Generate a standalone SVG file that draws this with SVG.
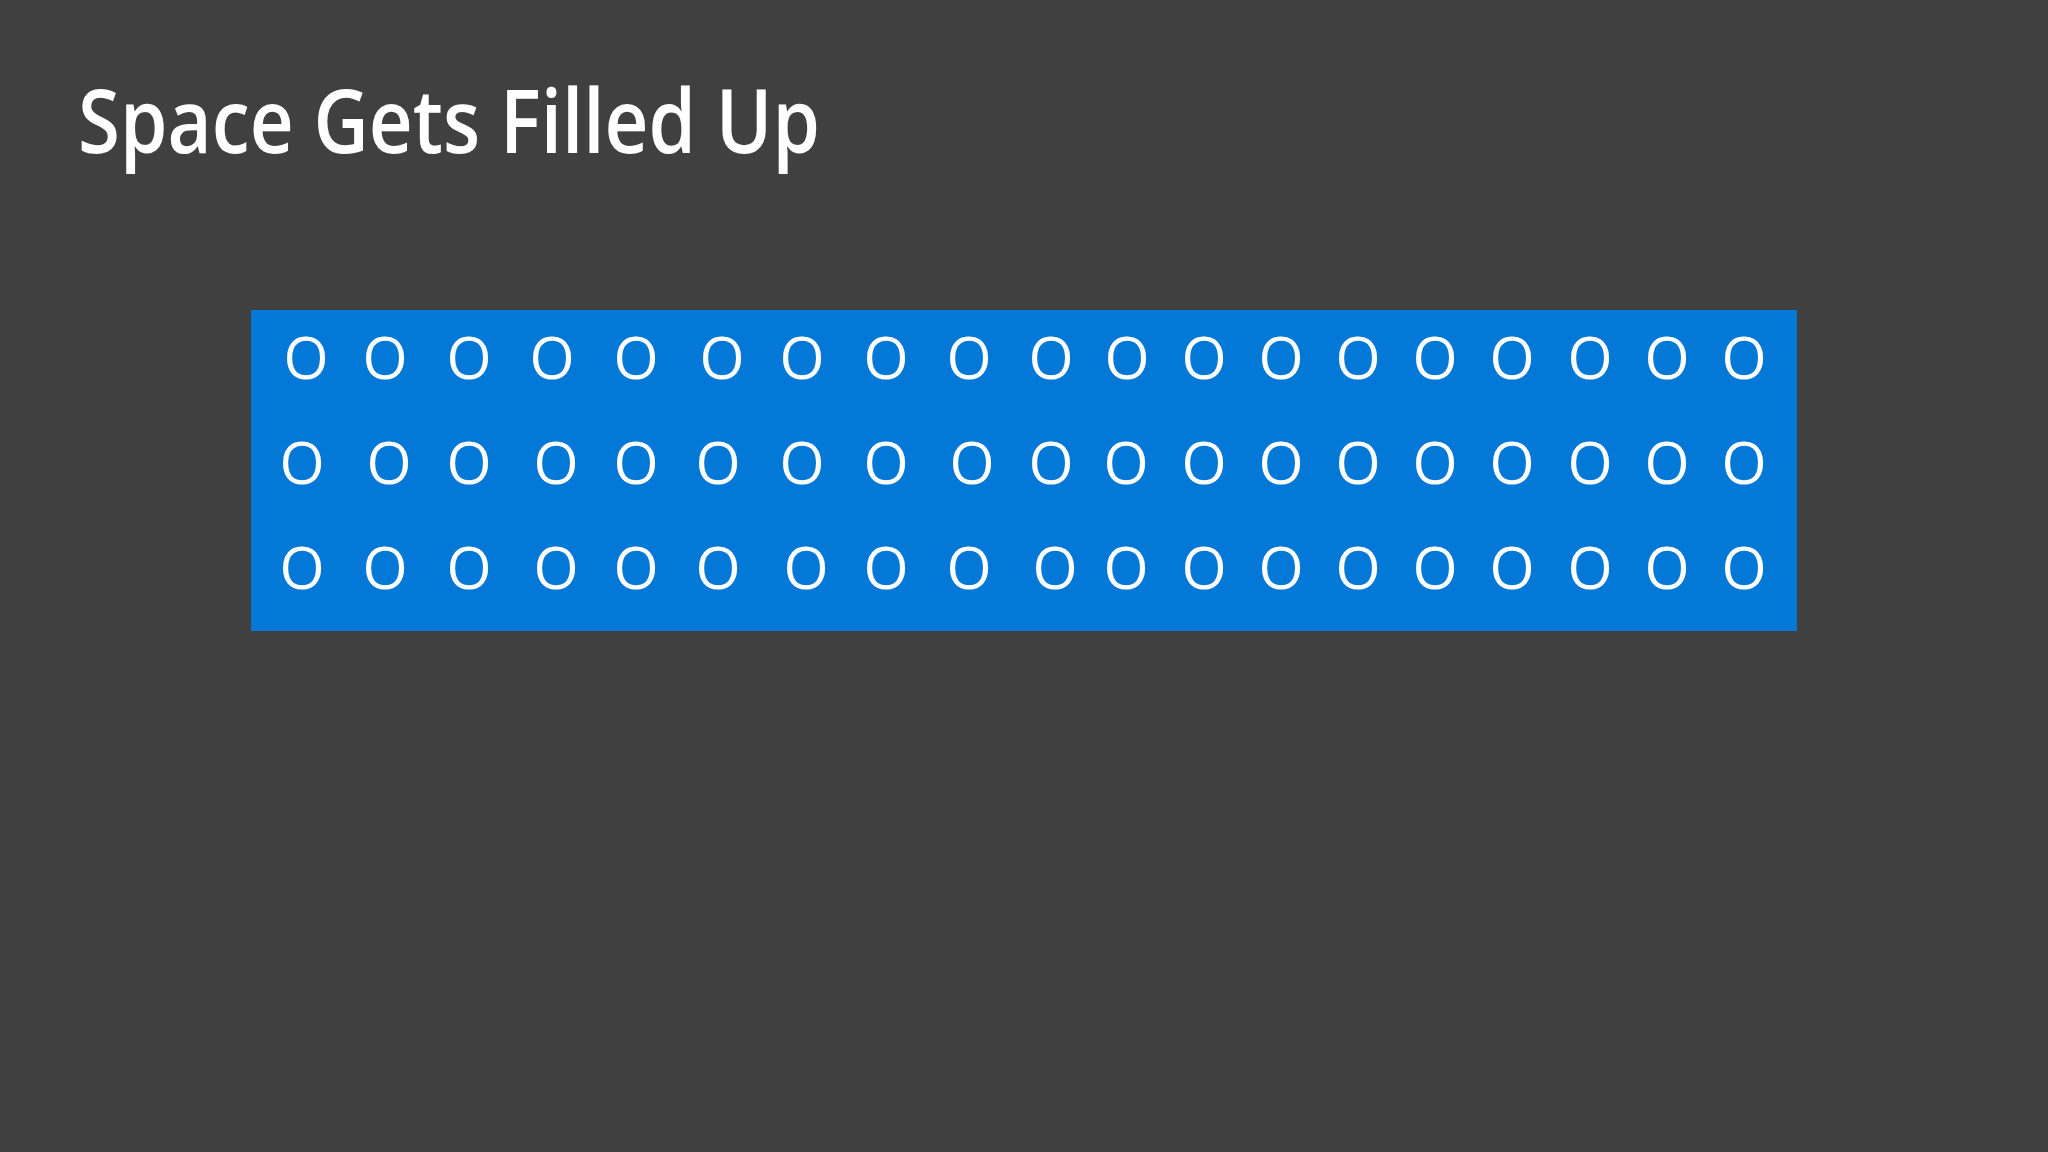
<svg xmlns="http://www.w3.org/2000/svg" width="2048" height="1152" viewBox="0 0 2048 1152">
<style>
.title{font-family:"Open Sans","Liberation Sans",sans-serif;font-weight:600;font-size:88px;fill:#ffffff}
.o{font-family:"Open Sans","Liberation Sans",sans-serif;font-size:58px;fill:#ffffff;text-anchor:middle}
</style>
<rect x="0" y="0" width="2048" height="1152" fill="#404040"/>
<text class="title" x="78" y="153" textLength="742" lengthAdjust="spacingAndGlyphs">Space Gets Filled Up</text>
<g id="block">
<rect x="251" y="310" width="1546" height="321" fill="#0478d6"/>
<g id="row1">
<text class="o" x="306" y="379">O</text><text class="o" x="385" y="379">O</text><text class="o" x="469" y="379">O</text><text class="o" x="552" y="379">O</text><text class="o" x="636" y="379">O</text><text class="o" x="722" y="379">O</text><text class="o" x="802" y="379">O</text><text class="o" x="886" y="379">O</text><text class="o" x="969" y="379">O</text><text class="o" x="1051" y="379">O</text><text class="o" x="1127" y="379">O</text><text class="o" x="1204" y="379">O</text><text class="o" x="1281" y="379">O</text><text class="o" x="1358" y="379">O</text><text class="o" x="1435" y="379">O</text><text class="o" x="1512" y="379">O</text><text class="o" x="1590" y="379">O</text><text class="o" x="1667" y="379">O</text><text class="o" x="1744" y="379">O</text>
</g>
<g id="row2">
<text class="o" x="302" y="484">O</text><text class="o" x="389" y="484">O</text><text class="o" x="469" y="484">O</text><text class="o" x="556" y="484">O</text><text class="o" x="636" y="484">O</text><text class="o" x="718" y="484">O</text><text class="o" x="802" y="484">O</text><text class="o" x="886" y="484">O</text><text class="o" x="972" y="484">O</text><text class="o" x="1051" y="484">O</text><text class="o" x="1126" y="484">O</text><text class="o" x="1204" y="484">O</text><text class="o" x="1281" y="484">O</text><text class="o" x="1358" y="484">O</text><text class="o" x="1435" y="484">O</text><text class="o" x="1512" y="484">O</text><text class="o" x="1590" y="484">O</text><text class="o" x="1667" y="484">O</text><text class="o" x="1744" y="484">O</text>
</g>
<g id="row3">
<text class="o" x="302" y="589">O</text><text class="o" x="385" y="589">O</text><text class="o" x="469" y="589">O</text><text class="o" x="556" y="589">O</text><text class="o" x="636" y="589">O</text><text class="o" x="718" y="589">O</text><text class="o" x="806" y="589">O</text><text class="o" x="886" y="589">O</text><text class="o" x="969" y="589">O</text><text class="o" x="1055" y="589">O</text><text class="o" x="1126" y="589">O</text><text class="o" x="1204" y="589">O</text><text class="o" x="1281" y="589">O</text><text class="o" x="1358" y="589">O</text><text class="o" x="1435" y="589">O</text><text class="o" x="1512" y="589">O</text><text class="o" x="1590" y="589">O</text><text class="o" x="1667" y="589">O</text><text class="o" x="1744" y="589">O</text>
</g>
</g>
</svg>
